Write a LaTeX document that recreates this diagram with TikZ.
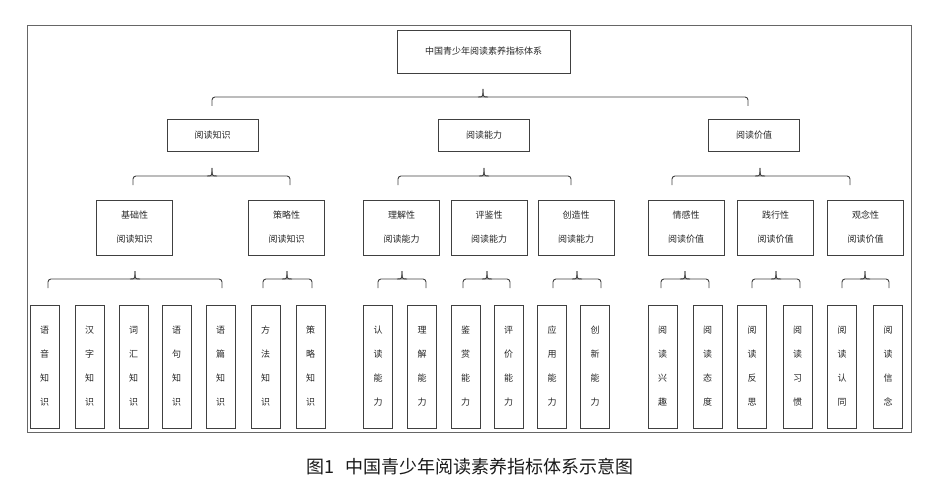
\documentclass[tikz,border=0pt]{standalone}
\usepackage{fontspec}
\setmainfont{Noto Sans CJK SC}
\begin{document}
\begin{tikzpicture}[x=1pt,y=-1pt,
  bx/.style={draw=black!75,line width=0.8pt,inner sep=0pt,font=\fontsize{9}{12}\selectfont,text=black!85},
  leaf/.style={bx,minimum width=29pt,minimum height=123pt,align=center,font=\fontsize{9}{24}\selectfont},
  l3/.style={bx,minimum width=76pt,minimum height=55pt,align=center,font=\fontsize{9}{24}\selectfont},
  l2/.style={bx,minimum width=91pt,minimum height=32pt},
  br/.style={draw=black!75,line width=0.9pt}]
\useasboundingbox (0,0) rectangle (939,500);
\draw[black!60,line width=0.8pt] (27,25) rectangle (911,432);
\newcommand\brc[4]{%
  \draw[br,rounded corners=3] (#1,#4+9)--(#1,#4)--(#2,#4)--(#2,#4+9);
  \draw[br] (#3-5,#4) .. controls (#3,#4) .. (#3,#4-8);
  \draw[br] (#3+5,#4) .. controls (#3,#4) .. (#3,#4-8);}
\node[bx,minimum width=173pt,minimum height=43pt] (root) at (483.5,51.5) {中国青少年阅读素养指标体系};
\brc{212}{748}{483}{97}
\node[l2] (k) at (212.5,135) {阅读知识};
\node[l2] (a) at (484,135) {阅读能力};
\node[l2] (v) at (754,135) {阅读价值};
\brc{133}{290}{212}{176}
\brc{398}{571}{484}{176}
\brc{672}{850}{760}{176}
\node[l3] (k1) at (134.5,227.5) {基础性\\阅读知识};
\node[l3] (k2) at (286.5,227.5) {策略性\\阅读知识};
\node[l3] (a1) at (401.5,227.5) {理解性\\阅读能力};
\node[l3] (a2) at (489,227.5) {评鉴性\\阅读能力};
\node[l3] (a3) at (576,227.5) {创造性\\阅读能力};
\node[l3] (v1) at (686,227.5) {情感性\\阅读价值};
\node[l3] (v2) at (775.5,227.5) {践行性\\阅读价值};
\node[l3] (v3) at (865.5,227.5) {观念性\\阅读价值};
\brc{48}{222}{135}{279}
\brc{263}{312}{287}{279}
\brc{378}{426}{402}{279}
\brc{463}{510}{487}{279}
\brc{553}{601}{577}{279}
\brc{661}{709}{685}{279}
\brc{752}{800}{776}{279}
\brc{842}{889}{865}{279}
\foreach \n/\x/\t in {l1/44.5/语\\音\\知\\识, l2/89.5/汉\\字\\知\\识, l3/133.5/词\\汇\\知\\识, l4/176.5/语\\句\\知\\识, l5/220.5/语\\篇\\知\\识, l6/265.5/方\\法\\知\\识, l7/310.5/策\\略\\知\\识, l8/378/认\\读\\能\\力, l9/422/理\\解\\能\\力, l10/465.5/鉴\\赏\\能\\力, l11/508.5/评\\价\\能\\力, l12/552/应\\用\\能\\力, l13/595/创\\新\\能\\力, l14/662.5/阅\\读\\兴\\趣, l15/707.5/阅\\读\\态\\度, l16/752/阅\\读\\反\\思, l17/797.5/阅\\读\\习\\惯, l18/842/阅\\读\\认\\同, l19/888/阅\\读\\信\\念}
  \node[leaf] (\n) at (\x,366.5) {\t};
\node[font=\fontsize{18}{20}\selectfont,text=black!90] (cap) at (470,467) {图1\hspace{0.6em}中国青少年阅读素养指标体系示意图};
\end{tikzpicture}
\end{document}
